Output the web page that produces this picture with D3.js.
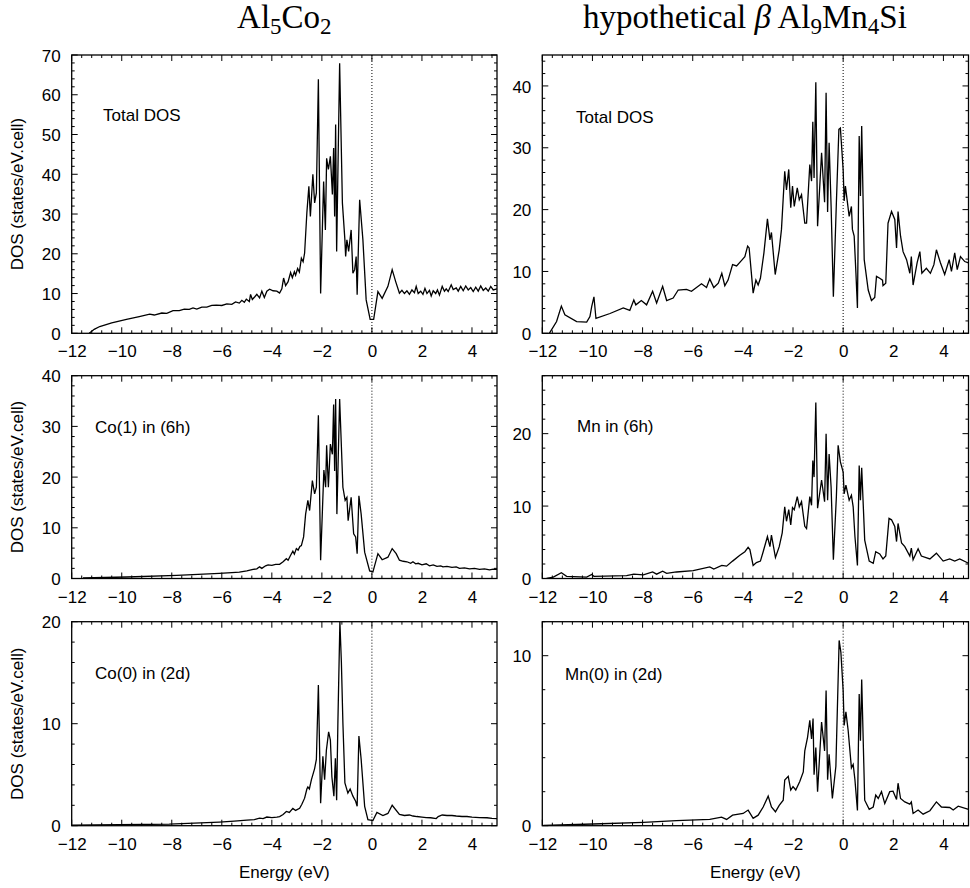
<!DOCTYPE html>
<html><head><meta charset="utf-8">
<script src="https://cdn.jsdelivr.net/npm/d3@7"></script>
<style>body{margin:0;background:#fff}</style></head>
<body><svg id="c" width="970" height="888"></svg>
<script>
// ---------- DATA ----------
const xTicks = [-12, -10, -8, -6, -4, -2, 0, 2, 4];
const xDomain = [-12, 5];
const panelLabels = ["Total DOS", "Total DOS", "Co(1) in (6h)", "Mn in (6h)", "Co(0) in (2d)", "Mn(0) in (2d)"];
const yDomains = [[0, 70], [0, 45], [0, 40], [0, 28], [0, 20], [0, 12]];
const yTicksL = [[0,10,20,30,40,50,60,70],[0,10,20,30,40],[0,10,20,30,40],[0,10,20],[0,10,20],[0,10]];

// Al5Co2 total DOS
const alcoTotE = [-11.3,-11.1,-10.88,-10.4,-9.81,-9.3,-8.88,-8.7,-8.4,-8.2,-7.95,-7.7,-7.5,-7.3,-7.15,-7.0,-6.8,-6.6,-6.4,-6.22,-6.0,-5.8,-5.6,-5.45,-5.3,-5.2,-5.1,-5.02,-4.9,-4.85,-4.78,-4.68,-4.6,-4.49,-4.4,-4.3,-4.2,-4.09,-3.95,-3.8,-3.69,-3.6,-3.53,-3.45,-3.35,-3.25,-3.18,-3.1,-3.05,-2.97,-2.9,-2.82,-2.75,-2.69,-2.6,-2.52,-2.46,-2.36,-2.29,-2.22,-2.14,-2.05,-1.93,-1.86,-1.81,-1.74,-1.66,-1.58,-1.53,-1.49,-1.45,-1.41,-1.29,-1.18,-1.08,-1.05,-1.0,-0.93,-0.83,-0.76,-0.69,-0.63,-0.59,-0.49,-0.36,-0.23,-0.07,0.07,0.24,0.41,0.64,0.81,0.95,1.1,1.2,1.3,1.4,1.5,1.6,1.7,1.77,1.85,1.95,2.04,2.12,2.2,2.3,2.37,2.45,2.55,2.62,2.7,2.81,2.9,2.97,3.05,3.17,3.25,3.37,3.45,3.55,3.65,3.75,3.85,3.95,4.05,4.15,4.25,4.35,4.45,4.55,4.65,4.75,4.85,5.0];
const alcoTotV = [0,1.0,1.7,2.6,3.5,4.2,4.8,4.6,5.1,5.0,5.7,5.7,6.1,6.0,6.4,6.1,6.6,6.6,7.0,7.1,7.0,7.4,7.3,7.9,7.6,8.3,7.8,8.6,8.0,9.8,8.5,9.2,9.8,8.9,10.6,9.0,10.6,11.1,10.7,10.6,10.1,11.2,13.9,12.0,13.0,15.3,14.0,15.5,14.6,16.3,15.4,18.9,18.0,20.2,30.3,37,29.4,40,32.8,35.3,63.9,10,38.2,26,44,41.2,44.5,34.9,46.6,29.4,52.5,20.6,67.9,32.8,23.5,19.3,23.5,20.6,26.0,15.1,16,19.3,9.7,33.6,23.5,8.4,3.5,3.5,10.5,8.8,11.8,16,13,10.1,10.8,10.0,10.7,9.8,10.9,10.2,11.8,10.0,10.6,9.8,11.3,10.0,10.8,9.4,10.7,10.0,10.9,9.6,11.8,10.6,11.2,10.5,12.2,11.0,11.4,10.6,11.8,10.7,11.9,10.9,11.5,10.5,11.6,10.6,11.9,10.8,11.4,10.6,11.8,10.9,11.2];

// Al9Mn4Si total DOS
const almnTotE = [-11.72,-11.43,-11.24,-11.1,-10.63,-10.23,-10.1,-10.03,-9.94,-9.86,-9.3,-8.77,-8.51,-8.35,-8.27,-8.05,-7.84,-7.6,-7.44,-7.2,-7.04,-6.78,-6.58,-6.25,-6.05,-5.65,-5.45,-5.32,-5.16,-4.98,-4.84,-4.72,-4.59,-4.41,-4.25,-4.05,-3.92,-3.81,-3.75,-3.59,-3.48,-3.39,-3.3,-3.16,-3.02,-2.92,-2.86,-2.71,-2.55,-2.46,-2.33,-2.26,-2.17,-2.09,-2.02,-1.95,-1.83,-1.75,-1.66,-1.53,-1.46,-1.33,-1.26,-1.21,-1.16,-1.09,-1.02,-0.86,-0.74,-0.68,-0.62,-0.56,-0.48,-0.39,-0.27,-0.17,-0.11,0,0.04,0.09,0.24,0.33,0.37,0.44,0.51,0.57,0.64,0.69,0.74,0.84,1.0,1.13,1.26,1.33,1.46,1.57,1.59,1.7,1.79,1.93,2.06,2.13,2.19,2.29,2.39,2.53,2.66,2.72,2.79,2.95,3.06,3.14,3.32,3.48,3.62,3.72,3.88,4.05,4.23,4.32,4.45,4.55,4.68,4.85,5.0];
const almnTotV = [0,1.9,4.4,3,1.9,1.8,2.7,4.3,5.9,2.4,3.2,4.1,3.7,5.4,4.6,5.3,4.6,6.8,4.9,7.6,5.3,5.7,7.0,7.1,6.8,8.0,7.4,8.8,7.4,8.1,9.7,7.7,8.6,11.1,10.9,11.8,12.4,14.1,13.8,6.5,8.6,7.8,8.9,13,18.5,15.1,16.3,9.5,13.5,16.8,26.2,23.2,26.5,20.3,23.8,20.5,23.5,21.6,22.4,17.8,17.8,27.3,24.6,34.2,25.1,40.6,17.3,29.2,21.2,38.9,19.6,30.8,20.5,5.9,21.1,33.0,33.2,26.5,21.4,23.8,18.9,20.5,16.8,15.7,9.7,4.1,31.9,22.2,33.5,11.9,7.0,5.3,5.8,9.2,8.9,8.6,7.7,8.1,17.8,19.7,18.4,13.8,19.7,15.7,13.2,11.9,9.7,12.4,7.8,11.4,13.2,9.7,10.5,9.7,11.1,13.5,11.4,9.5,11.9,10.0,13.0,10.3,12.4,11.6,11.4];

// Co(1) in (6h)
const co1E = [-11.55,-9.8,-7.8,-6.1,-5.6,-5.3,-5.0,-4.75,-4.6,-4.49,-4.4,-4.25,-4.15,-4.0,-3.85,-3.69,-3.55,-3.42,-3.35,-3.25,-3.16,-3.1,-3.02,-2.95,-2.88,-2.82,-2.73,-2.65,-2.56,-2.49,-2.38,-2.29,-2.22,-2.14,-2.05,-1.92,-1.85,-1.81,-1.74,-1.66,-1.58,-1.53,-1.49,-1.45,-1.40,-1.29,-1.16,-1.07,-1.0,-0.95,-0.83,-0.73,-0.65,-0.59,-0.52,-0.43,-0.29,-0.09,0.04,0.24,0.41,0.64,0.81,0.97,1.1,1.25,1.4,1.55,1.64,1.75,1.85,2.0,2.17,2.3,2.45,2.6,2.75,2.84,3.0,3.2,3.37,3.5,3.7,3.9,4.1,4.3,4.5,4.7,4.85,5.0];
const co1V = [0.1,0.3,0.6,1.0,1.15,1.25,1.5,1.8,1.9,2.3,2.0,2.5,2.7,2.6,2.8,2.8,3.3,3.9,3.6,4.6,5.4,4.8,5.9,5.6,6.3,6.5,8.2,12.7,15.4,13.4,19.3,16.7,18,32.2,3.6,21.4,18,26.3,18,26.5,24.5,34.3,21.2,35.4,12.7,35.4,18,15.4,16,11.4,16,8.8,8.2,4.9,16.3,12.7,5.2,1.5,1.3,4.9,3.7,4.2,5.9,4.9,3.6,3.4,3.3,3.0,3.3,2.9,3.0,2.7,2.9,2.5,2.7,2.4,2.5,2.3,2.4,2.2,2.3,2.0,2.1,1.9,2.0,1.8,1.9,1.7,1.85,1.8];

// Mn in (6h)
const mn6E = [-11.83,-11.56,-11.24,-11.03,-10.23,-10.03,-9.94,-8.64,-8.35,-7.97,-7.6,-7.44,-7.2,-7.04,-6.65,-5.98,-5.32,-5.16,-4.84,-4.65,-4.41,-4.12,-3.92,-3.79,-3.72,-3.59,-3.46,-3.3,-3.19,-3.02,-2.92,-2.86,-2.7,-2.55,-2.43,-2.33,-2.26,-2.17,-2.09,-2.02,-1.95,-1.83,-1.75,-1.66,-1.53,-1.46,-1.33,-1.26,-1.21,-1.16,-1.09,-1.02,-0.86,-0.74,-0.68,-0.62,-0.56,-0.48,-0.39,-0.27,-0.2,-0.11,0,0.04,0.11,0.24,0.33,0.4,0.47,0.57,0.64,0.69,0.74,0.86,1.04,1.2,1.3,1.46,1.59,1.7,1.83,1.93,2.06,2.13,2.19,2.33,2.46,2.66,2.72,2.79,2.99,3.12,3.46,3.72,3.99,4.25,4.45,4.65,5.0];
const mn6V = [0,0.2,0.8,0.3,0.2,0.55,0.3,0.4,0.6,0.5,0.9,0.6,1.0,0.7,0.9,1.1,1.6,1.3,1.8,1.7,2.4,3.2,3.7,4.3,4.0,1.8,2.2,2.4,3.7,5.8,4.4,6.0,2.9,4.4,6.3,9.9,7.9,9.5,7.4,9.8,9.5,11.3,9.9,10.6,7.2,6.9,11.3,10.1,16.3,14.0,24.3,9.7,13.6,10.6,20,10.8,17.2,12.6,2.6,11.3,18.4,16.1,14.7,11.7,12.9,10.8,11.5,9.9,5.8,1.8,15.6,10.8,15.3,5.3,2.4,2.1,3.7,3.4,2.7,3.1,8.3,8.1,7.2,5.1,7.6,4.9,4.4,3.1,4.2,2.6,4.1,3.1,2.7,3.5,2.4,2.7,2.4,2.7,2.1];

// Co(0) in (2d)
const co0E = [-12,-11.1,-8.1,-6.1,-5.5,-5.0,-4.7,-4.49,-4.35,-4.2,-4.0,-3.8,-3.69,-3.55,-3.42,-3.3,-3.16,-3.05,-2.89,-2.8,-2.69,-2.6,-2.56,-2.5,-2.42,-2.29,-2.22,-2.14,-2.05,-1.96,-1.89,-1.82,-1.73,-1.66,-1.6,-1.52,-1.46,-1.41,-1.36,-1.28,-1.22,-1.16,-1.08,-0.96,-0.87,-0.76,-0.65,-0.59,-0.52,-0.43,-0.29,-0.16,0.04,0.2,0.44,0.64,0.81,1.1,1.3,1.5,1.64,1.8,2.0,2.17,2.35,2.57,2.65,2.81,3.0,3.2,3.37,3.6,3.8,4.0,4.3,4.6,4.8,5.0];
const co0V = [0.05,0.07,0.16,0.36,0.45,0.55,0.6,0.75,0.7,0.85,0.8,0.85,0.9,1.1,1.4,1.3,1.7,1.5,1.7,2.1,2.7,3.6,3.8,3.6,4.5,5.6,6.5,13.8,2.2,6.8,4.5,7.4,9.2,8.4,4.8,2.9,6.6,2.5,10.1,20,16,10.1,4.2,3.2,3.6,2.9,2.4,1.9,8.8,6.5,1.9,0.6,0.5,1.3,1.0,1.2,2.0,1.1,1.0,1.05,0.95,0.9,0.85,0.8,0.78,0.7,0.9,1.05,1.0,1.0,0.95,0.9,0.9,0.85,0.8,0.78,0.72,0.7];

// Mn(0) in (2d)
const mn0E = [-11.96,-9.97,-7.97,-6.65,-5.32,-4.85,-4.65,-4.41,-3.99,-3.79,-3.59,-3.39,-3.19,-2.99,-2.86,-2.7,-2.55,-2.39,-2.33,-2.19,-2.09,-2.0,-1.89,-1.73,-1.59,-1.53,-1.42,-1.33,-1.26,-1.2,-1.16,-1.09,-1.02,-0.86,-0.74,-0.68,-0.62,-0.56,-0.43,-0.29,-0.16,-0.09,0,0.04,0.11,0.2,0.33,0.4,0.47,0.57,0.64,0.69,0.74,0.86,1.04,1.2,1.3,1.4,1.53,1.66,1.86,1.99,2.13,2.19,2.29,2.46,2.66,2.72,2.79,2.99,3.19,3.46,3.72,3.92,4.25,4.39,4.59,5.0];
const mn0V = [0.02,0.1,0.2,0.3,0.37,0.5,0.37,0.62,0.72,0.92,0.43,0.62,1.1,1.74,1.1,0.82,1.2,1.5,2.68,2.9,2.1,2.3,2.1,2.6,3.16,4.4,5.2,6.2,5.1,6.3,3.0,4.6,2.0,6.1,4.4,7.95,2.7,4.2,1.6,3.5,10.9,10.2,7.95,5.9,6.7,5.6,3.4,3.6,2.7,0.9,7.75,5.0,8.6,1.5,0.96,1.1,1.8,1.6,2.0,1.3,2.0,2.03,1.54,2.5,1.6,1.4,1.27,1.4,0.72,0.92,0.68,0.88,1.4,1.1,1.07,0.92,1.15,0.96];

const seriesE = [alcoTotE, almnTotE, co1E, mn6E, co0E, mn0E];
const seriesV = [alcoTotV, almnTotV, co1V, mn6V, co0V, mn0V];

// ---------- LAYOUT ----------
const colX = [[71.7, 497], [542.3, 968.5]];
const rowY = [[55, 333.3], [375.7, 578.5], [621.7, 825.7]];
const labelPos = [[103, 121], [576, 123], [95, 433], [577, 432], [95, 679], [565, 680]];
const FONT = "'Liberation Sans', Arial, Helvetica, sans-serif";

const svg = d3.select("#c");
svg.append("rect").attr("width", 970).attr("height", 888).attr("fill", "#fff");

// Titles
const tfont = "'Liberation Serif', 'Times New Roman', serif";
function addTitle(cx, parts) {
  const t = svg.append("text").attr("x", cx).attr("y", 28).attr("text-anchor", "middle")
    .attr("font-family", tfont).attr("font-size", 33).attr("fill", "#000");
  parts.forEach(p => {
    const ts = t.append("tspan").text(p.t);
    if (p.sub) ts.attr("font-size", 23).attr("dy", 6);
    if (p.back) ts.attr("dy", -6);
    if (p.it) ts.attr("font-style", "italic");
  });
}
addTitle((colX[0][0] + colX[0][1]) / 2, [{t: "Al"}, {t: "5", sub: 1}, {t: "Co", back: 1}, {t: "2", sub: 1}]);
addTitle(745, [{t: "hypothetical "}, {t: "β", it: 1}, {t: "\u2009Al"}, {t: "9", sub: 1}, {t: "Mn", back: 1}, {t: "4", sub: 1}, {t: "Si", back: 1}]);

for (let i = 0; i < 6; i++) {
  const col = i % 2, row = Math.floor(i / 2);
  const [x0, x1] = colX[col], [y0, y1] = rowY[row];
  const x = d3.scaleLinear().domain(xDomain).range([x0, x1]);
  const y = d3.scaleLinear().domain(yDomains[i]).range([y1, y0]);
  const g = svg.append("g");
  const cid = "clip" + i;
  svg.append("clipPath").attr("id", cid).append("rect")
    .attr("x", x0).attr("y", y0).attr("width", x1 - x0).attr("height", y1 - y0);

  // ticks (mirrored, inward)
  const minorX = d3.range(-12, 5.001, 0.4).filter(v => !xTicks.some(t => Math.abs(t - v) < 1e-6));
  const minorY = d3.range(yDomains[i][0], yDomains[i][1] + 0.001, 2).filter(v => v % 10 !== 0);
  const tg = g.append("g").attr("stroke", "#000").attr("stroke-width", 1);
  minorX.forEach(v => {
    const px = x(v);
    tg.append("line").attr("x1", px).attr("x2", px).attr("y1", y1).attr("y2", y1 - 3);
    tg.append("line").attr("x1", px).attr("x2", px).attr("y1", y0).attr("y2", y0 + 3);
  });
  xTicks.forEach(v => {
    const px = x(v);
    tg.append("line").attr("x1", px).attr("x2", px).attr("y1", y1).attr("y2", y1 - 6);
    tg.append("line").attr("x1", px).attr("x2", px).attr("y1", y0).attr("y2", y0 + 6);
  });
  minorY.forEach(v => {
    const py = y(v);
    tg.append("line").attr("x1", x0).attr("x2", x0 + 3).attr("y1", py).attr("y2", py);
    tg.append("line").attr("x1", x1).attr("x2", x1 - 3).attr("y1", py).attr("y2", py);
  });
  yTicksL[i].forEach(v => {
    const py = y(v);
    tg.append("line").attr("x1", x0).attr("x2", x0 + 6).attr("y1", py).attr("y2", py);
    tg.append("line").attr("x1", x1).attr("x2", x1 - 6).attr("y1", py).attr("y2", py);
  });

  // tick labels through d3 axes
  const ax = d3.axisBottom(x).tickValues(xTicks).tickSize(0).tickPadding(0).tickFormat(d3.format("d"));
  const axg = g.append("g").attr("transform", `translate(0,${y1 + 24})`).call(ax);
  axg.select(".domain").remove();
  axg.selectAll("text").attr("font-family", FONT).attr("font-size", 17).attr("fill", "#000").attr("dy", 0);
  const ay = d3.axisLeft(y).tickValues(yTicksL[i]).tickSize(0).tickPadding(11).tickFormat(d3.format("d"));
  const ayg = g.append("g").attr("transform", `translate(${x0},0)`).call(ay);
  ayg.select(".domain").remove();
  ayg.selectAll("text").attr("font-family", FONT).attr("font-size", 17).attr("fill", "#000").attr("dy", "0.36em");

  // Fermi level
  g.append("line").attr("x1", x(0)).attr("x2", x(0)).attr("y1", y0).attr("y2", y1)
    .attr("stroke", "#000").attr("stroke-width", 1).attr("stroke-dasharray", "1,2");

  // curve
  const pts = seriesE[i].map((e, k) => [e, seriesV[i][k]]);
  g.append("path").attr("clip-path", `url(#${cid})`).datum(pts)
    .attr("d", d3.line().x(d => x(d[0])).y(d => y(d[1])))
    .attr("fill", "none").attr("stroke", "#000").attr("stroke-width", 1.3);

  // frame
  g.append("rect").attr("x", x0).attr("y", y0).attr("width", x1 - x0).attr("height", y1 - y0)
    .attr("fill", "none").attr("stroke", "#000").attr("stroke-width", 1.3);

  g.append("text").attr("x", labelPos[i][0]).attr("y", labelPos[i][1]).text(panelLabels[i])
    .attr("font-family", FONT).attr("font-size", 17).attr("fill", "#000");

  if (col === 0) {
    const cy = (y0 + y1) / 2;
    g.append("text").attr("transform", `translate(23,${cy}) rotate(-90)`).attr("text-anchor", "middle")
      .text("DOS (states/eV.cell)").attr("font-family", FONT).attr("font-size", 17).attr("fill", "#000");
  }
  if (row === 2) {
    g.append("text").attr("x", (x0 + x1) / 2).attr("y", 878).attr("text-anchor", "middle")
      .text("Energy (eV)").attr("font-family", FONT).attr("font-size", 17).attr("fill", "#000");
  }
}
</script></body></html>
